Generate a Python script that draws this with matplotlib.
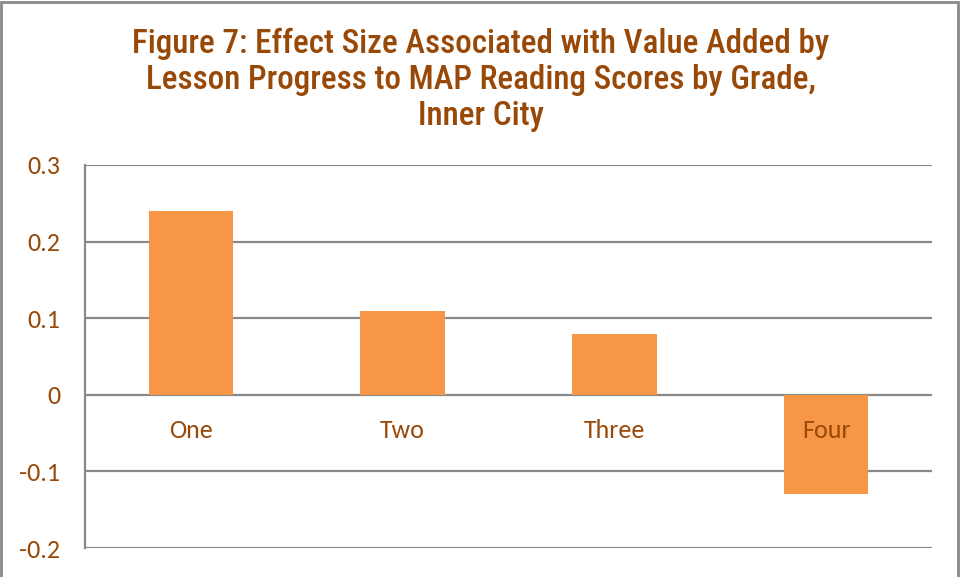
import matplotlib.pyplot as plt
from matplotlib.patches import Rectangle
import numpy as np

# Data
grades = ["One", "Two", "Three", "Four"]
effect_size = [0.24, 0.11, 0.08, -0.13]
yticks = [-0.2, -0.1, 0, 0.1, 0.2, 0.3]
ytick_labels = ["-0.2", "-0.1", "0", "0.1", "0.2", "0.3"]

brown = "#984807"
orange = "#F79646"
grey = "#898989"
label_font = ["Carlito", "Open Sans", "DejaVu Sans"]
title_font = ["Roboto Condensed", "Liberation Sans", "DejaVu Sans"]

fig = plt.figure(figsize=(9.61, 5.77), dpi=100)
ax = fig.add_axes([85 / 961, 1 - 548 / 577, (932 - 85) / 961, (548 - 165) / 577])

x = np.arange(len(grades))
ax.bar(x, effect_size, width=0.40, color=orange, zorder=3)

ax.set_xlim(-0.5, len(grades) - 0.5)
ax.set_ylim(-0.2, 0.3)
ax.set_yticks(yticks)
ax.set_yticklabels(ytick_labels, fontsize=18.7, color=brown, family=label_font)
ax.tick_params(axis="y", length=0, pad=18)
ax.set_xticks([])

ax.grid(axis="y", color=grey, linewidth=1.6, zorder=1)
for s in ["top", "right", "bottom"]:
    ax.spines[s].set_visible(False)
ax.spines["left"].set_color(grey)
ax.spines["left"].set_linewidth(1.6)

# kategorie pod nulovou osou
for i, g in enumerate(grades):
    ax.annotate(g, (i, 0), xytext=(0, -26), textcoords="offset points",
                ha="center", va="center", fontsize=18.7, color=brown,
                family=label_font, zorder=4)

# titulek
fig.text(0.5, 1 - 80 / 577,
         "Figure 7: Effect Size Associated with Value Added by\n"
         "Lesson Progress to MAP Reading Scores by Grade,\nInner City",
         ha="center", va="center", fontsize=23.9, color=brown,
         family=title_font, weight=500, linespacing=1.16)

# rámeček grafu
fig.patches.append(Rectangle((1 / 961, -0.01), 957 / 961, 1 - 2 / 577 + 0.01,
                             transform=fig.transFigure, fill=False,
                             edgecolor=grey, linewidth=2))

fig.savefig("out.png", dpi=100)
